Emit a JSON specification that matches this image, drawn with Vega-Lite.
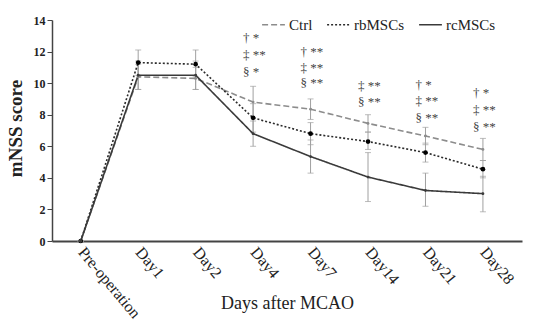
{
  "$schema": "https://vega.github.io/schema/vega-lite/v6.json",
  "width": 470,
  "height": 221,
  "autosize": {"type": "none"},
  "padding": {"left": 52, "top": 20, "right": 18, "bottom": 83},
  "background": "white",
  "config": {
    "font": "Liberation Serif",
    "view": {"stroke": null},
    "axis": {"grid": false, "labelOverlap": false, "labelBound": false, "labelFlush": false},
    "axisY": {"labelFontSize": 12, "labelFontWeight": "bold", "labelColor": "#222", "tickSize": 5, "tickColor": "#444",
      "domainColor": "#444", "domainWidth": 1.5, "labelPadding": 2, "tickCount": 8,
      "titleFontSize": 19, "titleFontWeight": "bold", "titleColor": "#222",
      "titleX": -37, "titleY": 108, "titleAlign": "center", "titleBaseline": "middle", "titleAngle": -90}
  },
  "datasets": {
    "main": [
      {"series": "Ctrl", "idx": 0, "mean": 0, "lo": 0, "hi": 0},
      {"series": "Ctrl", "idx": 1, "mean": 10.4, "lo": 9.6, "hi": 11.2},
      {"series": "Ctrl", "idx": 2, "mean": 10.3, "lo": 9.6, "hi": 11.0},
      {"series": "Ctrl", "idx": 3, "mean": 8.8, "lo": 7.8, "hi": 9.8},
      {"series": "Ctrl", "idx": 4, "mean": 8.35, "lo": 7.7, "hi": 9.0},
      {"series": "Ctrl", "idx": 5, "mean": 7.45, "lo": 6.9, "hi": 8.0},
      {"series": "Ctrl", "idx": 6, "mean": 6.65, "lo": 6.1, "hi": 7.2},
      {"series": "Ctrl", "idx": 7, "mean": 5.8, "lo": 5.1, "hi": 6.5},
      {"series": "rbMSCs", "idx": 0, "mean": 0, "lo": 0, "hi": 0},
      {"series": "rbMSCs", "idx": 1, "mean": 11.3, "lo": 10.5, "hi": 12.1},
      {"series": "rbMSCs", "idx": 2, "mean": 11.2, "lo": 10.4, "hi": 12.1},
      {"series": "rbMSCs", "idx": 3, "mean": 7.8, "lo": 6.9, "hi": 8.7},
      {"series": "rbMSCs", "idx": 4, "mean": 6.8, "lo": 6.1, "hi": 7.5},
      {"series": "rbMSCs", "idx": 5, "mean": 6.3, "lo": 5.8, "hi": 6.9},
      {"series": "rbMSCs", "idx": 6, "mean": 5.6, "lo": 5.0, "hi": 6.2},
      {"series": "rbMSCs", "idx": 7, "mean": 4.55, "lo": 4.0, "hi": 5.1},
      {"series": "rcMSCs", "idx": 0, "mean": 0, "lo": 0, "hi": 0},
      {"series": "rcMSCs", "idx": 1, "mean": 10.5, "lo": 9.6, "hi": 11.4},
      {"series": "rcMSCs", "idx": 2, "mean": 10.5, "lo": 9.6, "hi": 11.4},
      {"series": "rcMSCs", "idx": 3, "mean": 6.8, "lo": 6.0, "hi": 7.6},
      {"series": "rcMSCs", "idx": 4, "mean": 5.35, "lo": 4.3, "hi": 6.4},
      {"series": "rcMSCs", "idx": 5, "mean": 4.05, "lo": 2.5, "hi": 5.6},
      {"series": "rcMSCs", "idx": 6, "mean": 3.2, "lo": 2.2, "hi": 4.3},
      {"series": "rcMSCs", "idx": 7, "mean": 3.0, "lo": 1.85, "hi": 4.1}
    ],
    "notes": [
      {"idx": 3, "v": 12.85, "t": "† *"},
      {"idx": 3, "v": 11.77, "t": "‡ **"},
      {"idx": 3, "v": 10.7, "t": "§ *"},
      {"idx": 4, "v": 11.96, "t": "† **"},
      {"idx": 4, "v": 10.95, "t": "‡ **"},
      {"idx": 4, "v": 10.0, "t": "§ **"},
      {"idx": 5, "v": 9.81, "t": "‡ **"},
      {"idx": 5, "v": 8.8, "t": "§ **"},
      {"idx": 6, "v": 9.87, "t": "† *"},
      {"idx": 6, "v": 8.86, "t": "‡ **"},
      {"idx": 6, "v": 7.78, "t": "§ **"},
      {"idx": 7, "v": 9.37, "t": "† *"},
      {"idx": 7, "v": 8.29, "t": "‡ **"},
      {"idx": 7, "v": 7.22, "t": "§ **"}
    ]
  },
  "data": {"name": "main"},
  "layer": [
    {
      "mark": {"type": "rule", "color": "#a0a0a0", "strokeWidth": 1},
      "encoding": {
        "x": {"field": "idx", "type": "quantitative", "scale": {"domain": [-0.5, 7.68], "nice": false, "zero": false},
          "axis": {"values": [0, 1, 2, 3, 4, 5, 6, 7],
            "labelExpr": "['Pre-operation','Day1','Day2','Day4','Day7','Day14','Day21','Day28'][datum.value]",
            "labelAngle": 50, "labelFontSize": 16, "labelColor": "#222", "labelPadding": 8,
            "labelAlign": "left", "labelBaseline": "middle",
            "ticks": false, "domainColor": "#444", "domainWidth": 2,
            "title": "Days after MCAO", "titleFontSize": 18, "titleFontWeight": "normal", "titleColor": "#222",
            "titleY": 62, "titleBaseline": "middle"}},
        "y": {"field": "lo", "type": "quantitative", "scale": {"domain": [0, 14], "nice": false},
          "axis": {"values": [0, 2, 4, 6, 8, 10, 12, 14], "title": "mNSS score"}},
        "y2": {"field": "hi"}
      }
    },
    {
      "mark": {"type": "tick", "orient": "horizontal", "color": "#a0a0a0", "thickness": 1, "size": 6},
      "encoding": {
        "x": {"field": "idx", "type": "quantitative"},
        "y": {"field": "lo", "type": "quantitative", "axis": {"values": [0, 2, 4, 6, 8, 10, 12, 14], "title": "mNSS score"}}
      }
    },
    {
      "mark": {"type": "tick", "orient": "horizontal", "color": "#a0a0a0", "thickness": 1, "size": 6},
      "encoding": {
        "x": {"field": "idx", "type": "quantitative"},
        "y": {"field": "hi", "type": "quantitative", "axis": {"values": [0, 2, 4, 6, 8, 10, 12, 14], "title": "mNSS score"}}
      }
    },
    {
      "mark": {"type": "line", "strokeWidth": 1.6},
      "encoding": {
        "x": {"field": "idx", "type": "quantitative"},
        "y": {"field": "mean", "type": "quantitative", "axis": {"values": [0, 2, 4, 6, 8, 10, 12, 14], "title": "mNSS score"}},
        "color": {"field": "series", "type": "nominal",
          "scale": {"domain": ["Ctrl", "rbMSCs", "rcMSCs"], "range": ["#8c8c8c", "#2a2a2a", "#3a3a3a"]},
          "legend": {"title": null, "orient": "none", "legendX": 209, "legendY": -8, "direction": "horizontal",
            "symbolType": "stroke", "symbolSize": 520, "symbolStrokeWidth": 1.6, "labelFontSize": 15, "labelColor": "#222",
            "labelOffset": 3, "columnPadding": 10}},
        "strokeDash": {"field": "series", "type": "nominal",
          "scale": {"domain": ["Ctrl", "rbMSCs", "rcMSCs"], "range": [[6, 3], [2, 2], [1, 0]]}}
      }
    },
    {
      "transform": [{"filter": "datum.series == 'rbMSCs'"}],
      "mark": {"type": "point", "filled": true, "opacity": 1, "fill": "#000000", "size": 22},
      "encoding": {
        "x": {"field": "idx", "type": "quantitative"},
        "y": {"field": "mean", "type": "quantitative", "axis": {"values": [0, 2, 4, 6, 8, 10, 12, 14], "title": "mNSS score"}}
      }
    },
    {
      "transform": [{"filter": "datum.series == 'Ctrl'"}],
      "mark": {"type": "point", "filled": true, "opacity": 1, "fill": "#8c8c8c", "size": 8},
      "encoding": {
        "x": {"field": "idx", "type": "quantitative"},
        "y": {"field": "mean", "type": "quantitative", "axis": {"values": [0, 2, 4, 6, 8, 10, 12, 14], "title": "mNSS score"}}
      }
    },
    {
      "transform": [{"filter": "datum.series == 'rcMSCs'"}],
      "mark": {"type": "point", "filled": true, "opacity": 1, "fill": "#3a3a3a", "size": 8},
      "encoding": {
        "x": {"field": "idx", "type": "quantitative"},
        "y": {"field": "mean", "type": "quantitative", "axis": {"values": [0, 2, 4, 6, 8, 10, 12, 14], "title": "mNSS score"}}
      }
    },
    {
      "data": {"name": "notes"},
      "mark": {"type": "text", "align": "left", "baseline": "middle", "dx": -10, "fontSize": 13, "color": "#444", "fill": "#444", "opacity": 1},
      "encoding": {
        "x": {"field": "idx", "type": "quantitative"},
        "y": {"field": "v", "type": "quantitative", "axis": {"values": [0, 2, 4, 6, 8, 10, 12, 14], "title": "mNSS score"}},
        "text": {"field": "t"}
      }
    }
  ]
}
